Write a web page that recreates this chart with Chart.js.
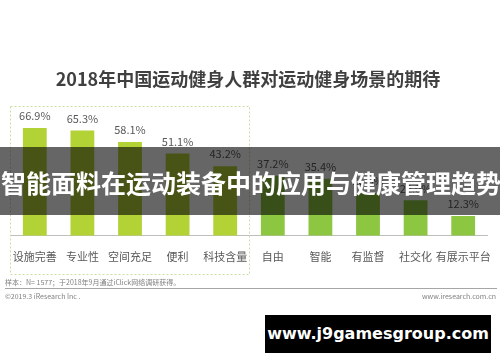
<!DOCTYPE html>
<html>
<head>
<meta charset="utf-8">
<script src="https://cdn.jsdelivr.net/npm/chart.js@4"></script>
<style>
  body { margin: 0; background: #fff; }
  #wrap { position: relative; width: 500px; height: 362px; overflow: hidden; font-family: "Noto Sans CJK SC", sans-serif; }
  #chart { position: absolute; left: 0; top: 0; }
  .txt { position: absolute; white-space: nowrap; }
  #title { left: 0; width: 496px; top: 66px; text-align: center; font-size: 18px; font-weight: bold; color: #404040; line-height: 24px; }
  #note { left: 5px; top: 277px; font-size: 7px; color: #808080; line-height: 10px; }
  #rule { position: absolute; left: 5px; top: 288px; width: 492px; height: 1px; background: #a6a6a6; }
  #copy { left: 5px; top: 291px; font-size: 7px; color: #808080; line-height: 10px; }
  #site { right: 4px; top: 291px; font-size: 7px; color: #808080; line-height: 10px; }
  #banner { position: absolute; left: 0; top: 147px; width: 500px; height: 68px; background: rgba(0,0,0,0.6); }
  #banner span { position: absolute; left: 1px; top: 19px; font-size: 25px; font-weight: bold; color: #fff; line-height: 32px; white-space: nowrap; }
  #mark { position: absolute; left: 265px; top: 315px; width: 226px; height: 38px; background: #000; color: #fff; font-family: "DejaVu Sans", sans-serif; font-weight: bold; font-size: 16px; line-height: 38px; text-align: center; }
</style>
</head>
<body>
<div id="wrap">
  <canvas id="chart" width="500" height="362"></canvas>
  <div class="txt" id="title">2018年中国运动健身人群对运动健身场景的期待</div>
  <div class="txt" id="note">样本：N= 1577；于2018年9月通过iClick网络调研获得。</div>
  <div id="rule"></div>
  <div class="txt" id="copy">©2019.3 iResearch Inc .</div>
  <div class="txt" id="site">www.iresearch.com.cn</div>
  <div id="banner"><span>智能面料在运动装备中的应用与健康管理趋势</span></div>
  <div id="mark">www.j9gamesgroup.com</div>
</div>
<script>
const categories = ['设施完善', '专业性', '空间充足', '便利', '科技含量', '自由', '智能', '有监督', '社交化', '有展示平台'];
const values = [66.9, 65.3, 58.1, 51.1, 43.2, 37.2, 35.4, 26.5, 22.0, 12.3];
const barColors = ['#b3d236', '#b3d236', '#b3d236', '#b3d236', '#b3d236', '#8dc641', '#8dc641', '#8dc641', '#8dc641', '#8dc641'];

const labelFont = '"Noto Sans CJK SC", sans-serif';

const extras = {
  id: 'extras',
  afterDatasetsDraw(chart) {
    const ctx = chart.ctx;
    const meta = chart.getDatasetMeta(0);
    ctx.save();
    ctx.fillStyle = '#595959';
    ctx.font = '11px ' + labelFont;
    ctx.textAlign = 'center';
    ctx.textBaseline = 'middle';
    meta.data.forEach((bar, i) => {
      ctx.fillText(values[i].toFixed(1) + '%', bar.x, bar.y - 12);
    });
    // dashed highlight box around the first five categories
    const x = chart.scales.x;
    const right = (x.getPixelForValue(4) + x.getPixelForValue(5)) / 2;
    ctx.strokeStyle = '#c9dea6';
    ctx.lineWidth = 1;
    ctx.setLineDash([2, 2]);
    ctx.strokeRect(10.5, 106.5, right - 10, 168);
    ctx.restore();
  }
};

new Chart(document.getElementById('chart'), {
  type: 'bar',
  data: {
    labels: categories,
    datasets: [{
      data: values,
      backgroundColor: barColors,
      categoryPercentage: 1,
      barPercentage: 0.5
    }]
  },
  options: {
    responsive: false,
    animation: false,
    layout: { padding: { left: 11, right: 13, top: 110, bottom: 93 } },
    plugins: { legend: { display: false }, tooltip: { enabled: false } },
    scales: {
      x: {
        grid: { display: false },
        border: { display: true, color: '#bfbfbf', width: 1 },
        ticks: { color: '#595959', font: { size: 11, family: labelFont }, padding: 6, maxRotation: 0, autoSkip: false }
      },
      y: { display: false, min: 0, max: 78 }
    }
  },
  plugins: [extras]
});
</script>
</body>
</html>
